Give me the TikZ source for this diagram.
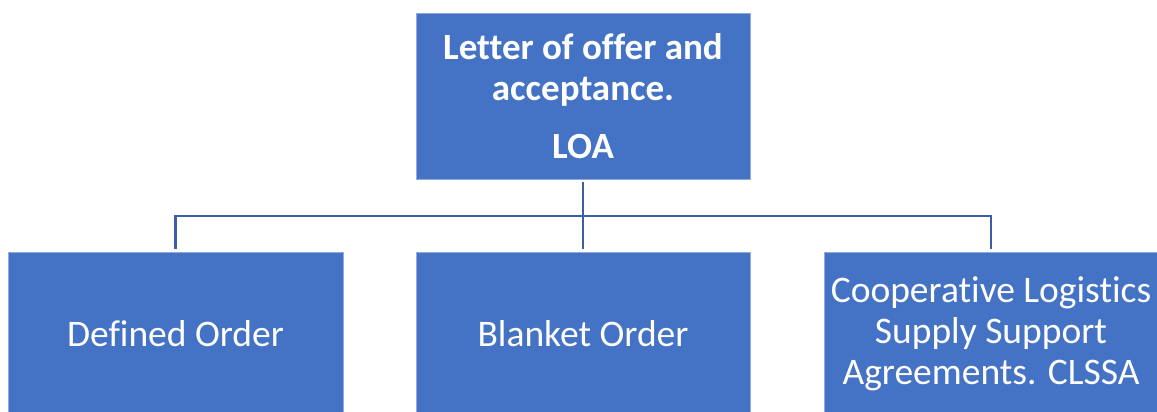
\documentclass[tikz,border=0pt]{standalone}
\usepackage{fontspec}
\setmainfont{Carlito}[Ligatures=NoCommon]
\definecolor{boxfill}{HTML}{4472C4}
\definecolor{boxedge}{HTML}{8FAADC}
\definecolor{linkcol}{HTML}{3B5EA6}
\begin{document}
\begin{tikzpicture}[x=1pt,y=-1pt,
  orgbox/.style={rectangle, fill=boxfill, draw=boxedge, line width=0.8pt, text=white, align=center, inner sep=0pt},
  toptext/.style={font=\fontsize{37}{41}\selectfont\bfseries},
  bottext/.style={font=\fontsize{37.5}{41}\selectfont},
  link/.style={draw=linkcol, line width=2.2pt}]
\useasboundingbox (0,0) rectangle (1157,412);
\fill[white] (0,0) rectangle (1157,412);
\node[orgbox, toptext, minimum width=334pt, minimum height=166pt] (top) at (583,96)
  {Letter of offer and\\acceptance.\\[17pt]LOA};
\node[orgbox, bottext, minimum width=335pt, minimum height=164pt] (left) at (175.5,334) {Defined Order};
\node[orgbox, bottext, minimum width=334pt, minimum height=164pt] (mid) at (583,334) {Blanket Order};
\node[orgbox, bottext, minimum width=334pt, minimum height=164pt] (right) at (991,334)
  {Cooperative Logistics\\Supply Support\\Agreements. CLSSA};
\coordinate (j) at (583,216);
\draw[link, shorten <=3pt] (top.south) -- (j);
\draw[link, shorten >=3pt] (j) -- (mid.north);
\draw[link, shorten >=3pt] (j) -| (left.north);
\draw[link, shorten >=3pt] (j) -| (right.north);
\end{tikzpicture}
\end{document}
